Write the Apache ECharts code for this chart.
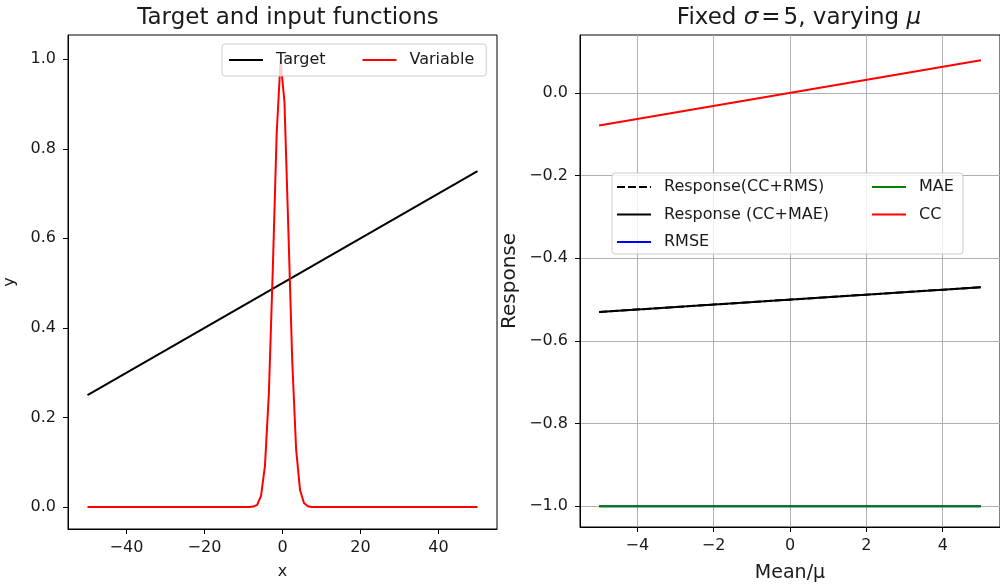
<!DOCTYPE html>
<html>
<head>
<meta charset="utf-8">
<script src="https://cdn.jsdelivr.net/npm/echarts@6/dist/echarts.min.js"></script>
<style>
  html, body { margin: 0; padding: 0; background: #fff; }
  #chart { width: 1000px; height: 588px; }
</style>
</head>
<body>
<div id="chart"></div>
<script>
// left panel: target line and the narrow input function
var targetData = [[-50, 0.25], [50, 0.75]];
var variableData = [
    [-50, 0], [-8.5, 0], [-7.5, 0.001], [-6.5, 0.005], [-5.5, 0.025], [-4.5, 0.092],
    [-3.5, 0.253], [-2.5, 0.527], [-1.5, 0.833], [-0.5, 0.997], [0.5, 0.905],
    [1.5, 0.62], [2.5, 0.325], [3.5, 0.128], [4.5, 0.038], [5.5, 0.009],
    [6.5, 0.002], [7.5, 0], [50, 0]
];
var leftXTicks = [-40, -20, 0, 20, 40];
var leftYTicks = [0, 0.2, 0.4, 0.6, 0.8, 1.0];

// right panel: metrics for fixed sigma, varying mu
var respRmsData = [[-5, -0.53], [5, -0.47]];
var respMaeData = [[-5, -0.53], [5, -0.47]];
var rmseData = [[-5, -1.0], [5, -1.0]];
var maeData = [[-5, -1.0], [5, -1.0]];
var ccData = [[-5, -0.079], [5, 0.079]];
var rightXTicks = [-4, -2, 0, 2, 4];
var rightYTicks = [-1.0, -0.8, -0.6, -0.4, -0.2, 0.0];

var font = 'DejaVu Sans';
var txt = '#1a1a1a';

function fmt(dec) {
    return function (v) {
        return v.toFixed(dec).replace('-', '\u2212');
    };
}

function xAxis(grid, min, max, ticks, name, nameSize, nameGap, grid2) {
    return {
        type: 'value', gridIndex: grid, min: min, max: max,
        name: name, nameLocation: 'middle', nameGap: nameGap,
        nameTextStyle: {fontFamily: font, fontSize: nameSize, color: txt},
        axisLine: {onZero: false, lineStyle: {color: '#000', width: 1}},
        axisTick: {show: true, length: 5, customValues: ticks, lineStyle: {color: '#000'}},
        axisLabel: {customValues: ticks, margin: 11, formatter: fmt(0),
            fontFamily: font, fontSize: 16, color: txt},
        splitLine: {show: grid2, lineStyle: {color: '#b0b0b0', width: 1}}
    };
}

function yAxis(grid, min, max, ticks, name, nameSize, nameGap, grid2) {
    return {
        type: 'value', gridIndex: grid, min: min, max: max,
        name: name, nameLocation: 'middle', nameGap: nameGap, nameRotate: 90,
        nameTextStyle: {fontFamily: font, fontSize: nameSize, color: txt},
        axisLine: {show: true, onZero: false, lineStyle: {color: '#000', width: 1}},
        axisTick: {show: true, length: 5, customValues: ticks, lineStyle: {color: '#000'}},
        axisLabel: {customValues: ticks, margin: 12, formatter: fmt(1),
            fontFamily: font, fontSize: 16, color: txt},
        splitLine: {show: grid2, lineStyle: {color: '#b0b0b0', width: 1}}
    };
}

function line(name, data, color, xi, type) {
    return {
        name: name, type: 'line', data: data, xAxisIndex: xi, yAxisIndex: xi,
        symbol: 'none', animation: false,
        lineStyle: {color: color, width: 2, type: type || 'solid'},
        itemStyle: {color: color}
    };
}

var legendText = {fontFamily: font, fontSize: 16, color: txt, padding: [0, 0, 0, 8]};

var chart = echarts.init(document.getElementById('chart'));
var option = {
    animation: false,
    backgroundColor: '#fff',
    title: [
        {text: 'Target and input functions', left: 283, top: 2, textAlign: 'center',
            textStyle: {fontFamily: font, fontSize: 23, fontWeight: 'normal', color: txt}},
        {text: 'Fixed {i|σ}{s|=}5, varying {i|μ}', left: 794, top: 2, textAlign: 'center',
            textStyle: {fontFamily: font, fontSize: 23, fontWeight: 'normal', color: txt,
                rich: {
                    i: {fontFamily: font, fontSize: 23, fontStyle: 'italic', color: txt},
                    s: {fontFamily: font, fontSize: 23, color: txt, padding: [0, 3, 0, 3]}
                }}}
    ],
    grid: [
        {left: 68, right: 503, top: 35, bottom: 59, show: true, borderColor: '#000', borderWidth: 1},
        {left: 580, right: -8, top: 35, bottom: 59, show: true, borderColor: '#000', borderWidth: 1}
    ],
    xAxis: [
        xAxis(0, -55, 55, leftXTicks, 'x', 16, 35, false),
        xAxis(1, -5.5, 5.5, rightXTicks, 'Mean/μ', 19, 37, true)
    ],
    yAxis: [
        yAxis(0, -0.049, 1.054, leftYTicks, 'y', 16, 50, false),
        yAxis(1, -1.05, 0.14, rightYTicks, 'Response', 20, 60, true)
    ],
    legend: [
        {data: ['Target', 'Variable'], left: 222, top: 44, orient: 'horizontal',
            itemWidth: 34, itemHeight: 14, itemGap: 36,
            itemStyle: {opacity: 0},
            padding: [8, 12, 8, 6], backgroundColor: 'rgba(255,255,255,0.8)',
            borderColor: '#cccccc', borderWidth: 1, borderRadius: 3,
            textStyle: legendText},
        {data: ['Response(CC+RMS)', 'Response (CC+MAE)', 'RMSE'], left: 616, top: 179,
            orient: 'vertical', itemWidth: 34, itemHeight: 14, itemGap: 11.5, padding: 0,
            itemStyle: {opacity: 0}, textStyle: legendText},
        {data: ['MAE', 'CC'], left: 871, top: 179,
            orient: 'vertical', itemWidth: 34, itemHeight: 14, itemGap: 11.5, padding: 0,
            itemStyle: {opacity: 0}, textStyle: legendText}
    ],
    graphic: [
        {type: 'rect', z: 3, shape: {x: 612, y: 173, width: 351, height: 81, r: 3},
            style: {fill: 'rgba(255,255,255,0.8)', stroke: '#cccccc', lineWidth: 1}}
    ],
    series: [
        line('Target', targetData, '#000000', 0),
        line('Variable', variableData, '#ff0000', 0),
        line('Response(CC+RMS)', respRmsData, '#000000', 1, [8, 3]),
        line('Response (CC+MAE)', respMaeData, '#000000', 1),
        line('RMSE', rmseData, '#0000ff', 1),
        line('MAE', maeData, '#008000', 1),
        line('CC', ccData, '#ff0000', 1)
    ]
};
chart.setOption(option);
</script>
</body>
</html>
